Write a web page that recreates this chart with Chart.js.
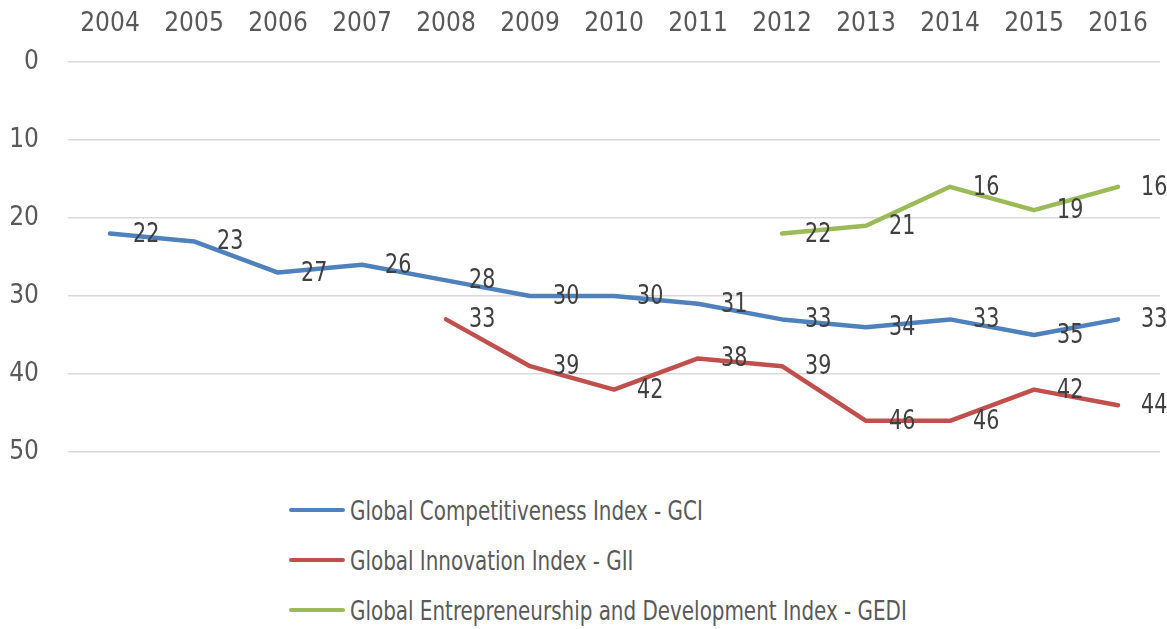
<!DOCTYPE html>
<html>
<head>
<meta charset="utf-8">
<script src="https://cdn.jsdelivr.net/npm/chart.js@4"></script>
<style>
  html, body { margin: 0; padding: 0; background: #fff; }
  #wrap { position: relative; width: 1167px; height: 629px; }
  #chartBox { position: absolute; left: 0; top: 0; width: 1167px; height: 470px; }
  #legend { position: absolute; left: 289px; top: 485px; font-family: "Liberation Sans Narrow", "DejaVu Sans Condensed", sans-serif; font-size: 27px; color: #595959; }
  .item { height: 50px; display: flex; align-items: center; white-space: nowrap; }
  .sw { display: inline-block; width: 56px; height: 4px; border-radius: 2px; margin-right: 5px; flex: none; }
  .tx { display: inline-block; transform: scaleX(0.82); transform-origin: left center; }
</style>
</head>
<body>
<div id="wrap">
  <div id="chartBox"><canvas id="c"></canvas></div>
  <div id="legend"></div>
</div>
<script>
const years = ['2004','2005','2006','2007','2008','2009','2010','2011','2012','2013','2014','2015','2016'];
const gci  = [22, 23, 27, 26, 28, 30, 30, 31, 33, 34, 33, 35, 33];
const gii  = [null, null, null, null, 33, 39, 42, 38, 39, 46, 46, 42, 44];
const gedi = [null, null, null, null, null, null, null, null, 22, 21, 16, 19, 16];
const seriesNames = ['Global Competitiveness Index - GCI', 'Global Innovation Index - GII', 'Global Entrepreneurship and Development Index - GEDI'];
const seriesColors = ['#4f81bd', '#c0504d', '#9bbb59'];
const yTicks = [0, 10, 20, 30, 40, 50];

const FONT = '"Liberation Sans Narrow", "DejaVu Sans Condensed", sans-serif';

const labelPlugin = {
  id: 'valueLabels',
  afterDatasetsDraw(chart) {
    const ctx = chart.ctx;
    ctx.save();
    ctx.font = '27px ' + FONT;
    ctx.fillStyle = '#404040';
    ctx.textAlign = 'left';
    ctx.textBaseline = 'middle';
    chart.data.datasets.forEach((ds, i) => {
      const meta = chart.getDatasetMeta(i);
      meta.data.forEach((pt, j) => {
        const v = ds.data[j];
        if (v === null || v === undefined) return;
        ctx.save();
        ctx.translate(pt.x + 23, pt.y + 1);
        ctx.scale(0.85, 1);
        ctx.fillText(String(v), 0, 0);
        ctx.restore();
      });
    });
    ctx.restore();
  }
};

const datasets = [gci, gii, gedi].map((d, i) => ({
  label: seriesNames[i],
  data: d,
  borderColor: seriesColors[i],
  backgroundColor: seriesColors[i],
  borderWidth: 4.5,
  pointRadius: 0,
  pointHoverRadius: 0,
  tension: 0,
  fill: false,
  borderCapStyle: 'round',
  borderJoinStyle: 'round'
}));

new Chart(document.getElementById('c'), {
  type: 'line',
  data: { labels: years, datasets },
  options: {
    responsive: true,
    maintainAspectRatio: false,
    animation: false,
    layout: { padding: { top: 0, right: 7, bottom: 18, left: 0 } },
    plugins: { legend: { display: false }, tooltip: { enabled: false } },
    scales: {
      x: {
        position: 'top',
        offset: true,
        grid: { display: false, drawTicks: false },
        border: { display: false },
        ticks: { color: '#595959', font: { family: FONT, size: 26 }, padding: 22, maxRotation: 0, autoSkip: false },
        afterFit(s) { s.height = 62; s.paddingLeft = 0; s.paddingRight = 0; }
      },
      y: {
        reverse: true,
        min: 0,
        max: 50,
        afterBuildTicks(s) { s.ticks = yTicks.map(v => ({ value: v })); },
        grid: { color: '#d9d9d9', lineWidth: 1.5, drawTicks: false },
        border: { display: false },
        ticks: { color: '#595959', font: { family: FONT, size: 26 }, padding: 29 },
        afterFit(s) { s.width = 68; s.paddingTop = 0; s.paddingBottom = 0; }
      }
    }
  },
  plugins: [labelPlugin]
});

const leg = document.getElementById('legend');
seriesNames.forEach((n, i) => {
  const row = document.createElement('div');
  row.className = 'item';
  const sw = document.createElement('span');
  sw.className = 'sw';
  sw.style.background = seriesColors[i];
  const t = document.createElement('span');
  t.className = 'tx';
  t.textContent = n;
  row.appendChild(sw);
  row.appendChild(t);
  leg.appendChild(row);
});
</script>
</body>
</html>
